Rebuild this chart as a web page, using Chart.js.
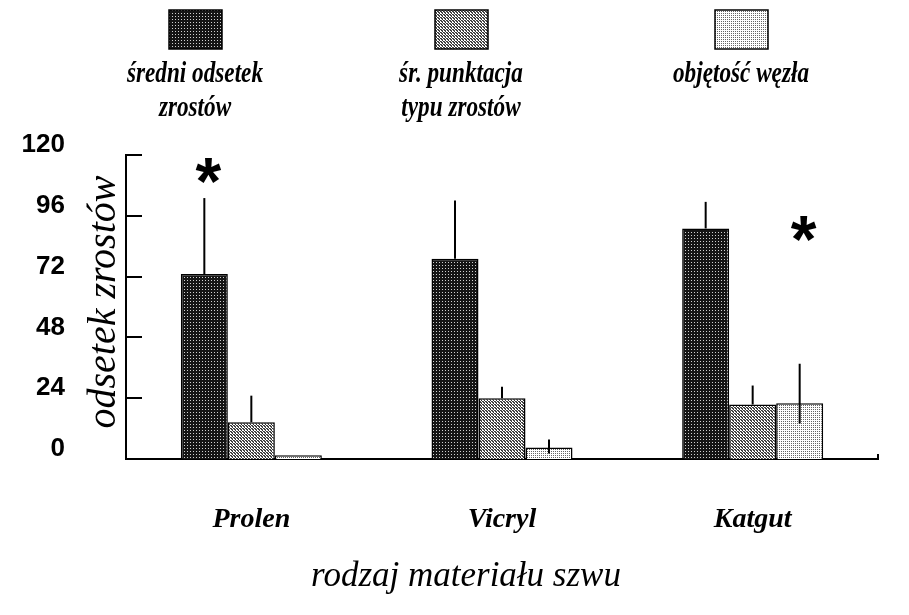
<!DOCTYPE html>
<html><head><meta charset="utf-8">
<script src="https://cdn.jsdelivr.net/npm/chart.js@4"></script>
<style>html,body{margin:0;padding:0;background:#fff}#wrap{width:909px;height:615px;position:relative}</style>
</head><body><div id="wrap"><canvas id="c"></canvas></div>
<script>
// ---- data ----
const categories = ['Prolen', 'Vicryl', 'Katgut'];
const seriesLabels = [['średni odsetek', 'zrostów'], ['śr. punktacja', 'typu zrostów'], ['objętość węzła']];
const meanAdhesion = [73, 79, 91];
const meanAdhesionErrUp = [30, 23, 10.5];
const adhesionScore = [14.5, 24, 21.5];
const adhesionScoreErrUp = [10.5, 4.5, 7.5];
const knotVolume = [1.5, 4.5, 22];
const knotVolumeErrUp = [0, 3.2, 15.6];
const knotVolumeErrDown = [0, 2.3, 8];
const yTicks = [0, 24, 48, 72, 96, 120];
const significance = [{category: 0, series: 0, value: 115}, {category: 2, series: 2, value: 92}];
const xTitle = 'rodzaj materiału szwu';
const yTitle = 'odsetek zrostów';

// ---- patterns ----
function makePattern(size, bg, dots) {
  const cv = document.createElement('canvas');
  cv.width = size; cv.height = size;
  const x = cv.getContext('2d');
  x.fillStyle = bg; x.fillRect(0, 0, size, size);
  dots.forEach(d => { x.fillStyle = d[2]; x.fillRect(d[0], d[1], 1, 1); });
  return x.createPattern(cv, 'repeat');
}
const darkPat = makePattern(3, '#151515', [[1, 1, '#d0d0d0']]);
const midPat = makePattern(3, '#fff', [[0, 0, '#333'], [1, 0, '#555'], [1, 1, '#333'], [2, 2, '#333'], [0, 2, '#555']]);
const lightPat = makePattern(2, '#fff', [[1, 1, '#666']]);

const legendCenters = [195, 461, 741];

const decorPlugin = {
  id: 'decor',
  afterDatasetsDraw(chart) {
    const c = chart.ctx, ys = chart.scales.y;
    c.save();
    c.strokeStyle = '#000'; c.lineWidth = 2;
    chart.data.datasets.forEach((ds, i) => {
      const meta = chart.getDatasetMeta(i);
      meta.data.forEach((bar, j) => {
        const v = ds.data[j];
        const up = ds.errUp ? ds.errUp[j] : 0;
        const dn = ds.errDown ? ds.errDown[j] : 0;
        if (!up && !dn) return;
        c.beginPath();
        c.moveTo(bar.x, ys.getPixelForValue(v - dn));
        c.lineTo(bar.x, ys.getPixelForValue(v + up));
        c.stroke();
      });
    });
    // significance asterisks
    c.fillStyle = '#000';
    c.font = 'bold 66px "Liberation Sans"';
    c.textAlign = 'center'; c.textBaseline = 'alphabetic';
    significance.forEach(s => {
      const bar = chart.getDatasetMeta(s.series).data[s.category];
      c.fillText('*', bar.x + 4, ys.getPixelForValue(s.value) + 36);
    });
    c.restore();
  },
  afterDraw(chart) {
    const c = chart.ctx, ys = chart.scales.y, a = chart.chartArea;
    c.save();
    c.strokeStyle = '#000'; c.lineWidth = 2;
    // inner tick marks
    ys.ticks.forEach(t => {
      const py = Math.round(ys.getPixelForValue(t.value));
      c.beginPath(); c.moveTo(a.left, py); c.lineTo(a.left + 16, py); c.stroke();
    });
    c.beginPath(); c.moveTo(a.right, a.bottom); c.lineTo(a.right, a.bottom - 5); c.stroke();
    // legend
    chart.data.datasets.forEach((ds, i) => {
      const cx = legendCenters[i];
      c.fillStyle = ds.backgroundColor;
      c.fillRect(cx - 26, 10, 53, 39);
      c.lineWidth = 1.5; c.strokeStyle = '#000';
      c.strokeRect(cx - 26, 10, 53, 39);
      c.fillStyle = '#000';
      c.font = 'italic bold 29px "Liberation Serif"';
      c.textAlign = 'center'; c.textBaseline = 'alphabetic';
      ds.label.forEach((line, k) => {
        c.save();
        c.translate(cx, 82 + k * 34);
        c.scale(0.8, 1);
        c.fillText(line, 0, 0);
        c.restore();
      });
    });
    // y title (between tick labels and axis)
    c.save();
    c.translate(104, 302);
    c.rotate(-Math.PI / 2);
    c.font = 'italic 40px "Liberation Serif"';
    c.fillStyle = '#000';
    c.textAlign = 'center'; c.textBaseline = 'middle';
    c.fillText(yTitle, 0, 0);
    c.restore();
    // x title
    c.font = 'italic 35px "Liberation Serif"';
    c.fillStyle = '#000';
    c.textAlign = 'center'; c.textBaseline = 'middle';
    c.fillText(xTitle, 466, 577);
    c.restore();
  }
};

new Chart(document.getElementById('c'), {
  type: 'bar',
  data: {
    labels: categories,
    datasets: [
      {label: seriesLabels[0], data: meanAdhesion, backgroundColor: darkPat, borderColor: '#000', borderWidth: 1.5, errUp: meanAdhesionErrUp},
      {label: seriesLabels[1], data: adhesionScore, backgroundColor: midPat, borderColor: '#000', borderWidth: 1.5, errUp: adhesionScoreErrUp},
      {label: seriesLabels[2], data: knotVolume, backgroundColor: lightPat, borderColor: '#000', borderWidth: 1.5, errUp: knotVolumeErrUp, errDown: knotVolumeErrDown}
    ]
  },
  options: {
    responsive: true, maintainAspectRatio: false, animation: false,
    layout: {padding: {top: 155, right: 31, left: 0, bottom: 0}},
    datasets: {bar: {categoryPercentage: 0.5625, barPercentage: 1}},
    plugins: {legend: {display: false}, tooltip: {enabled: false}},
    scales: {
      x: {
        grid: {display: false},
        border: {display: true, color: '#000', width: 2},
        ticks: {color: '#000', font: {family: 'Liberation Serif', size: 28, style: 'italic', weight: 'bold'}, padding: 36},
        afterFit(s) { s.height = 156; }
      },
      y: {
        min: 0, max: 120,
        afterBuildTicks(s) { s.ticks = yTicks.map(v => ({value: v})); },
        grid: {display: false},
        border: {display: true, color: '#000', width: 2},
        ticks: {color: '#000', font: {family: 'Liberation Sans', size: 26, weight: 'bold'}, padding: 53, labelOffset: -10},
        afterFit(s) { s.width = 126; }
      }
    }
  },
  plugins: [decorPlugin]
});
</script>
</body></html>
